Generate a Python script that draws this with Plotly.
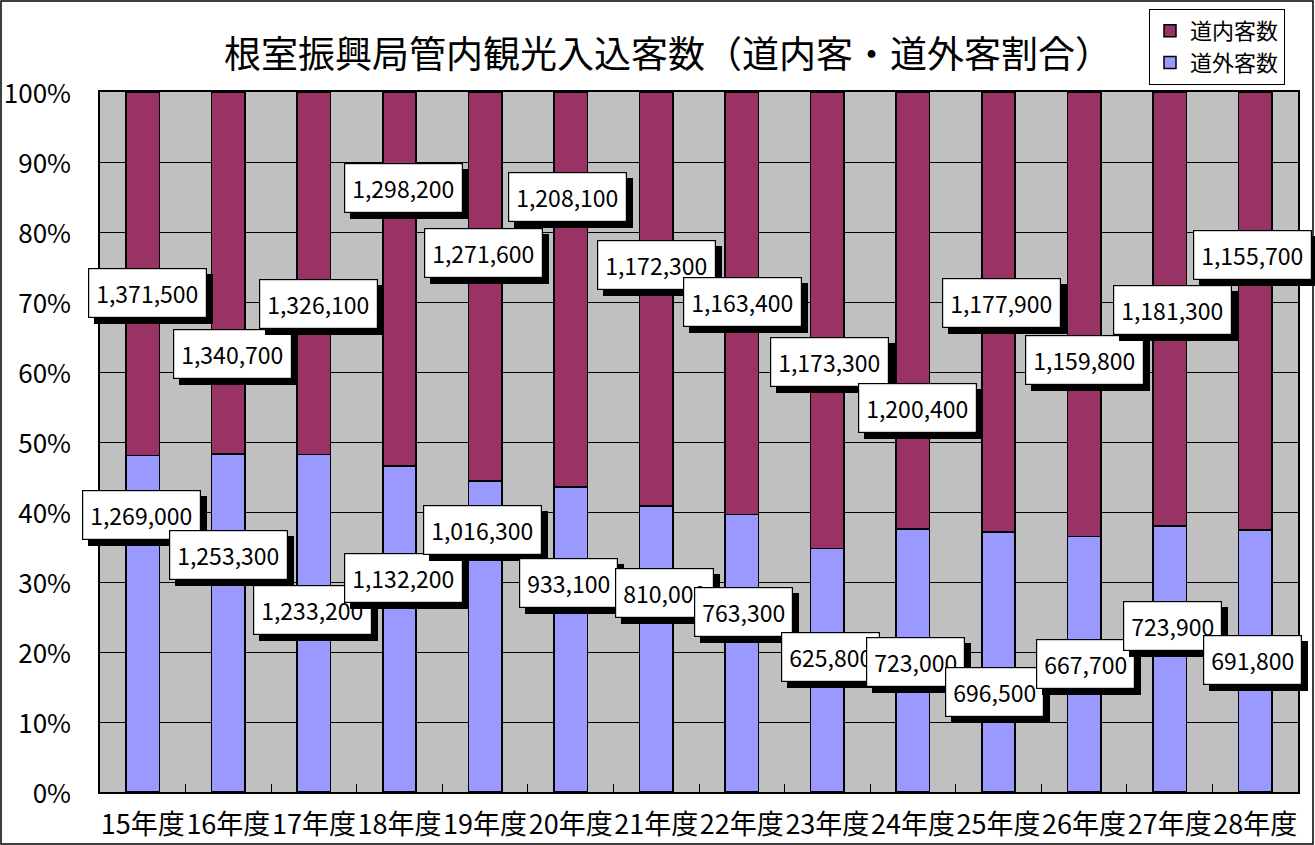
import plotly.graph_objects as go

categories = ["15年度", "16年度", "17年度", "18年度", "19年度", "20年度", "21年度",
              "22年度", "23年度", "24年度", "25年度", "26年度", "27年度", "28年度"]
dounai = [1371500, 1340700, 1326100, 1298200, 1271600, 1208100, 1172300,
          1163400, 1173300, 1200400, 1177900, 1159800, 1181300, 1155700]
dougai = [1269000, 1253300, 1233200, 1132200, 1016300, 933100, 810000,
          763300, 625800, 723000, 696500, 667700, 723900, 691800]

# label placement (percent axis)
top_label_y = [71.3, 62.6, 69.7, 86.3, 77.0, 85.0, 75.3, 70.0, 61.4, 54.9, 69.9, 61.7, 68.9, 76.7]
top_label_dx = [5, 4, 5, 4, -2, -3, 0, 1, 2, 5, 3, 0, 3, -3]
bot_label_y = [39.6, 33.9, 26.0, 30.6, 37.4, 29.9, 28.4, 25.7, 19.3, 18.6, 14.3, 18.3, 23.7, 18.9]
bot_label_dx = [-1, 0, -1, 4, -3, -2, 8, 2, 3, 3, -4, 1, 3, -3]

FONT = "Noto Sans CJK JP"
W, H = 1315, 845
ML, MR, MT, MB = 100, 17, 92, 53
PW, PH = W - ML - MR, H - MT - MB
LBL = 23

fig = go.Figure()
fig.add_trace(go.Bar(x=categories, y=dougai, name="道外客数",
                     marker=dict(color="#9999FF", line=dict(color="black", width=1.5))))
fig.add_trace(go.Bar(x=categories, y=dounai, name="道内客数",
                     marker=dict(color="#993366", line=dict(color="black", width=1.5))))

annotations = []


def add_label(cat, yv, dx, val):
    txt = f"{val:,}"
    common = dict(x=cat, y=yv, xref="x", yref="y", text=txt, showarrow=False,
                  borderpad=7, borderwidth=1.2)
    a_sh = dict(common)
    a_sh.update(xshift=dx + 6, yshift=-6, bgcolor="black", bordercolor="black",
                font=dict(family=FONT, size=LBL, color="black"))
    a_box = dict(common)
    a_box.update(xshift=dx, bgcolor="white", bordercolor="black",
                 font=dict(family=FONT, size=LBL, color="black"))
    annotations.append(a_sh)
    annotations.append(a_box)


for c, yv, dx, v in zip(categories, top_label_y, top_label_dx, dounai):
    add_label(c, yv, dx, v)
for c, yv, dx, v in zip(categories, bot_label_y, bot_label_dx, dougai):
    add_label(c, yv, dx, v)

fig.update_layout(
    width=W, height=H,
    barmode="stack", barnorm="percent", bargap=0.61,
    paper_bgcolor="white", plot_bgcolor="#C0C0C0",
    margin=dict(l=ML, r=MR, t=MT, b=MB, autoexpand=False),
    font=dict(family=FONT, color="black"),
    title=dict(text="根室振興局管内観光入込客数（道内客・道外客割合）",
               x=0.508, xref="container", xanchor="center",
               y=1 - 55 / H, yref="container", yanchor="middle",
               font=dict(family=FONT, size=37, color="black")),
    legend=dict(x=(1285 - ML) / PW, xanchor="right", y=(H - MB - 9) / PH, yanchor="top",
                traceorder="reversed", bgcolor="white", bordercolor="black", borderwidth=1,
                font=dict(family=FONT, size=22, color="black"),
                itemwidth=30, tracegroupgap=0),
    annotations=annotations,
    showlegend=True,
)

fig.update_xaxes(type="category", range=[-0.5, len(categories) - 0.5],
                 showline=True, linecolor="black", linewidth=2, mirror=True,
                 ticks="inside", tickson="boundaries", ticklen=8, tickcolor="black",
                 showgrid=False, tickfont=dict(family=FONT, size=27, color="black"),
                 tickangle=0, automargin=False, ticklabelstandoff=8)
fig.update_yaxes(range=[0, 100], dtick=10, ticksuffix="%", showline=True, linecolor="black",
                 linewidth=1.5, mirror=True, showgrid=True, gridcolor="black", gridwidth=1.2,
                 ticks="", tickfont=dict(family=FONT, size=26, color="black"), automargin=False,
                 ticklabelstandoff=22, ticklabelshift=2, zeroline=False)

# outer frame of the chart area
fig.add_shape(type="rect", xref="paper", yref="paper",
              x0=(1 - ML) / PW, x1=(W - 2 - ML) / PW,
              y0=(H - MB - (H - 1)) / PH, y1=(H - MB - 1) / PH,
              line=dict(color="black", width=1.5), fillcolor="rgba(0,0,0,0)", layer="above")

fig.write_html("out.html", config={"displayModeBar": False},
               post_script="document.body.style.margin='0';document.body.style.overflow='hidden';")
